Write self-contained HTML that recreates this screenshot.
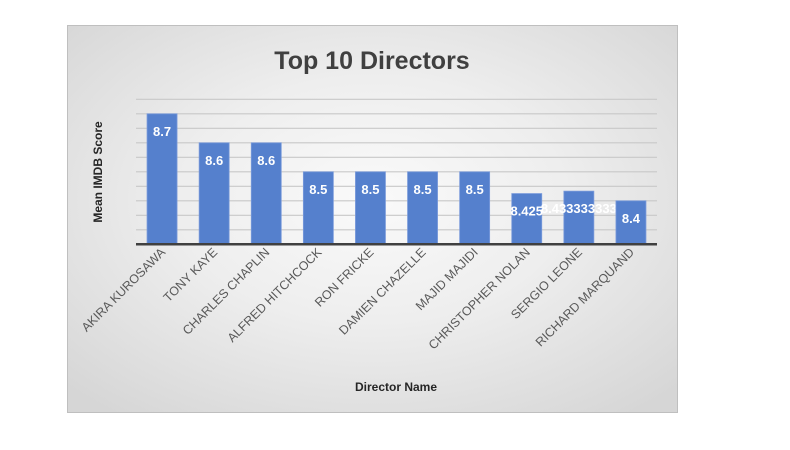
<!DOCTYPE html>
<html><head><meta charset="utf-8"><style>
body{margin:0;width:790px;height:450px;background:#fff;overflow:hidden;font-family:"Liberation Sans",sans-serif}
#chart{position:absolute;left:67px;top:25px;width:609px;height:386px;border:1px solid #bfbfbf;background:radial-gradient(ellipse 70% 70% at 50% 45%,#fafafa 0%,#eeeeee 45%,#d6d6d6 100%)}
</style></head><body>
<div id="chart"></div>
<svg id="svg" width="790" height="450" style="position:absolute;left:0;top:0">
<text x="372" y="69" text-anchor="middle" font-size="25" font-weight="bold" fill="#404040">Top 10 Directors</text>
<text transform="translate(102,172) rotate(-90)" text-anchor="middle" font-size="12" font-weight="bold" fill="#262626">Mean IMDB Score</text>
<text x="396" y="391" text-anchor="middle" font-size="12" font-weight="bold" fill="#262626">Director Name</text>
</svg>
<script>
const categories=["AKIRA KUROSAWA","TONY KAYE","CHARLES CHAPLIN","ALFRED HITCHCOCK","RON FRICKE","DAMIEN CHAZELLE","MAJID MAJIDI","CHRISTOPHER NOLAN","SERGIO LEONE","RICHARD MARQUAND"];
const values=[8.7,8.6,8.6,8.5,8.5,8.5,8.5,8.425,8.433333333,8.4];
const labels=["8.7","8.6","8.6","8.5","8.5","8.5","8.5","8.425","8.433333333","8.4"];
const ticks=[8.25,8.3,8.35,8.4,8.45,8.5,8.55,8.6,8.65,8.7,8.75];
const NS="http://www.w3.org/2000/svg",svg=document.getElementById('svg');
const x0=136,x1=657,yMin=8.25,yMax=8.75,yb=244.3,yt=99.3;
const y=v=>yb-(v-yMin)/(yMax-yMin)*(yb-yt);
const bw=(x1-x0)/categories.length;
const xc=i=>x0+bw*(i+0.5);
function mk(t,a){const e=document.createElementNS(NS,t);for(const k in a)e.setAttribute(k,a[k]);svg.appendChild(e);return e;}
ticks.forEach((t,i)=>{if(i===0)return;const l=mk('line',{x1:x0,x2:x1,y1:y(t),y2:y(t),stroke:'#c8c8c8','stroke-width':1.2});

});
values.forEach((v,i)=>{
const r=mk('rect',{x:xc(i)-15,y:y(v),width:30,height:yb-y(v),fill:'#5580cd',stroke:'#7b9bdb','stroke-width':0.8});


const t=mk('text',{x:xc(i),y:y(v)+22,'text-anchor':'middle','font-size':13,'font-weight':'bold',fill:'#fff'});
t.textContent=labels[i];


const c=mk('text',{transform:`translate(${xc(i)+4},253) rotate(-45)`,'text-anchor':'end','font-size':12.5,fill:'#595959'});
c.textContent=categories[i];


});
const ax=mk('line',{x1:x0,x2:x1,y1:yb,y2:yb,stroke:'#404040','stroke-width':2.5});


</script>
</body></html>
